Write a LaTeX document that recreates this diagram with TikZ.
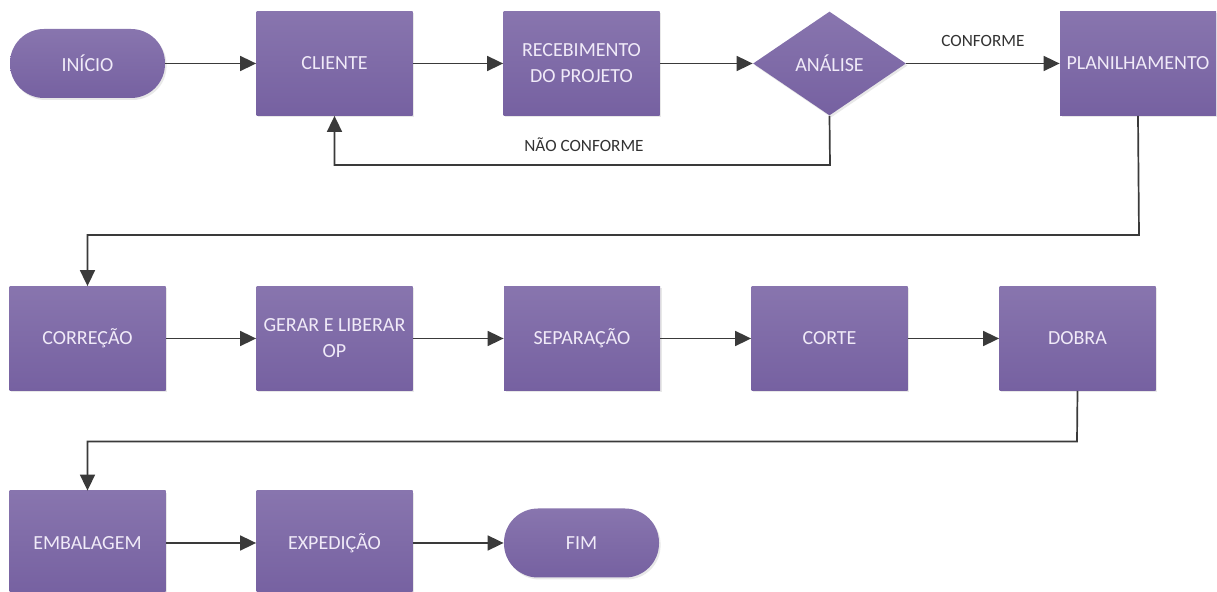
\documentclass[tikz,border=0pt]{standalone}
\usepackage{fontspec}
\setmainfont{Carlito}
\usetikzlibrary{arrows.meta,shapes.geometric,shadows}

\definecolor{boxtop}{RGB}{136,117,174}
\definecolor{boxbot}{RGB}{118,97,161}
\definecolor{boxtext}{RGB}{240,234,248}
\definecolor{wire}{RGB}{58,58,58}
\definecolor{labeltext}{RGB}{50,50,50}

\tikzset{
  base/.style={top color=boxtop, bottom color=boxbot, draw=none,
    text=boxtext, font=\fontsize{10}{12}\selectfont, align=center,
    inner sep=0pt,
    drop shadow={opacity=0.18, shadow xshift=0.8pt, shadow yshift=-1pt}},
  procbox/.style={base, rectangle, minimum width=78pt, minimum height=52pt},
  pill/.style={base, rectangle, rounded corners=17pt,
    minimum width=77.5pt, minimum height=34.5pt},
  decision/.style={base, diamond, minimum width=76.5pt, minimum height=52pt},
  flow/.style={draw=wire, line width=0.85pt,
    -{Triangle[length=8pt,width=7.5pt]}},
  flowlabel/.style={text=labeltext, font=\fontsize{8.6}{10}\selectfont, inner sep=0pt}
}

\begin{document}
\begin{tikzpicture}[x=0.5pt, y=-0.5pt]
  \useasboundingbox (0,0) rectangle (1217,592);
  \clip (0,0) rectangle (1217,592);

  % first row
  \node[pill]     (inicio)  at (87.5,63.5) {INÍCIO};
  \node[procbox]  (cliente) at (334.5,63.5){CLIENTE};
  \node[procbox]  (receb)   at (581.5,63.5){RECEBIMENTO\\[1pt]DO PROJETO};
  \node[decision] (analise) at (829.5,63.5){ANÁLISE};
  \node[procbox]  (plan)    at (1138,63.5) {PLANILHAMENTO};

  % second row
  \node[procbox] (correcao) at (87.5,338.5)  {CORREÇÃO};
  \node[procbox] (gerar)    at (334.5,338.5) {GERAR E LIBERAR\\[1pt]OP};
  \node[procbox] (separa)   at (582,338.5)   {SEPARAÇÃO};
  \node[procbox] (corte)    at (829.5,338.5) {CORTE};
  \node[procbox] (dobra)    at (1077.5,338.5){DOBRA};

  % third row
  \node[procbox] (embal)  at (87.5,543)  {EMBALAGEM};
  \node[procbox] (exped)  at (334.5,543) {EXPEDIÇÃO};
  \node[pill]    (fim)    at (581.5,543) {FIM};

  % bend points of the return and row-change lines
  \coordinate (nc)  at (830,165);
  \coordinate (r1)  at (1139,235);
  \coordinate (r2)  at (1077,441.5);

  % connectors, first row
  \draw[flow] (inicio) -- (cliente);
  \draw[flow] (cliente) -- (receb);
  \draw[flow] (receb) -- (analise.west);
  \draw[flow] (analise.east) -- node[flowlabel, above=8pt] {CONFORME} (plan);
  \draw[flow] (analise.south) -- (nc) -| (cliente.south);
  \node[flowlabel] (naoconf) at (584,145) {NÃO CONFORME};

  % down to the second row
  \draw[flow] (plan.south) -- (r1) -| (correcao.north);
  \draw[flow] (correcao) -- (gerar);
  \draw[flow] (gerar) -- (separa);
  \draw[flow] (separa) -- (corte);
  \draw[flow] (corte) -- (dobra);

  % down to the third row
  \draw[flow] (dobra.south) -- (r2) -| (embal.north);
  \draw[flow] (embal) -- (exped);
  \draw[flow] (exped) -- (fim);
\end{tikzpicture}
\end{document}
